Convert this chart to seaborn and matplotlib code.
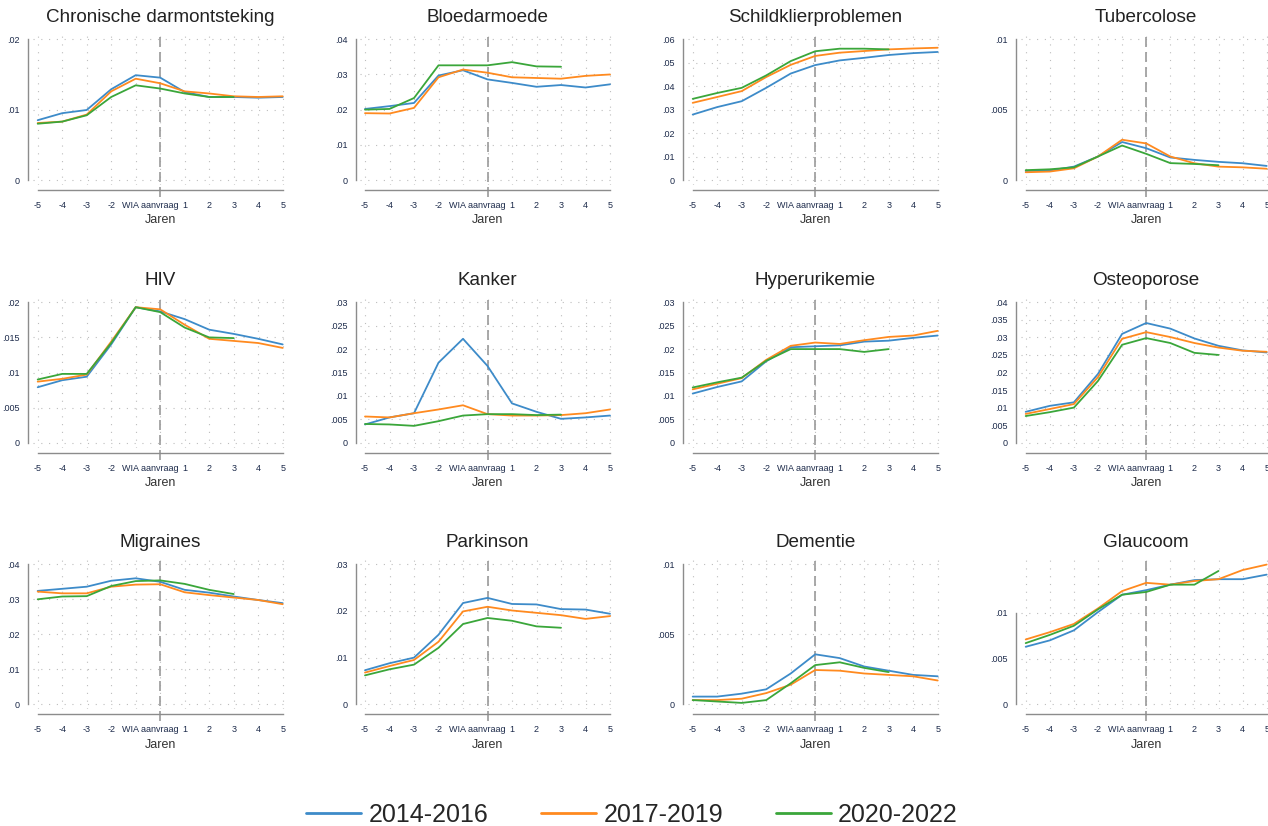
#!/usr/bin/env python3
"""Prevalentie per aandoening rond de WIA-aanvraag, drie cohorten."""

import matplotlib

matplotlib.use("Agg")
import matplotlib.pyplot as plt
import matplotlib.transforms as mtransforms
import numpy as np
import pandas as pd
import seaborn as sns
from matplotlib.lines import Line2D

YEARS = [-5, -4, -3, -2, -1, 0, 1, 2, 3, 4, 5]
PERIODS = ["2014-2016", "2017-2019", "2020-2022"]
DISEASES = [
    "Chronische darmontsteking", "Bloedarmoede", "Schildklierproblemen", "Tubercolose",
    "HIV", "Kanker", "Hyperurikemie", "Osteoporose",
    "Migraines", "Parkinson", "Dementie", "Glaucoom",
]

SERIES_2014_2016 = [
    [0.0085, 0.0095, 0.00995, 0.0129, 0.0149, 0.01455, 0.0125, 0.0118, 0.0118, 0.0117, 0.0118],
    [0.0202, 0.0210, 0.0219, 0.0297, 0.0312, 0.0286, 0.0276, 0.0265, 0.0270, 0.0263, 0.0272],
    [0.0279, 0.0311, 0.0336, 0.0393, 0.0454, 0.0490, 0.0510, 0.0521, 0.0533, 0.0541, 0.0546],
    [0.00064, 0.00067, 0.00095, 0.00167, 0.0027, 0.00226, 0.0016, 0.00143, 0.00129, 0.00119, 0.0010],
    [0.0079, 0.0089, 0.0094, 0.0140, 0.0193, 0.0187, 0.0176, 0.0161, 0.0155, 0.0148, 0.0140],
    [0.0039, 0.0054, 0.0063, 0.0171, 0.0222, 0.0164, 0.0084, 0.0066, 0.0051, 0.0054, 0.0058],
    [0.0105, 0.0119, 0.0131, 0.0174, 0.0204, 0.0206, 0.0208, 0.0216, 0.0218, 0.0224, 0.0229],
    [0.0088, 0.0105, 0.0115, 0.0196, 0.0310, 0.0341, 0.0325, 0.0297, 0.0276, 0.0263, 0.0257],
    [0.0324, 0.0330, 0.0336, 0.0353, 0.0360, 0.0350, 0.0327, 0.0319, 0.0308, 0.0298, 0.0289],
    [0.0073, 0.0088, 0.0100, 0.0149, 0.0217, 0.0228, 0.0215, 0.0214, 0.0204, 0.0203, 0.0194],
    [0.00055, 0.00055, 0.00076, 0.00107, 0.0022, 0.00357, 0.0033, 0.0027, 0.0024, 0.0021, 0.0020],
    [0.0063, 0.0070, 0.0081, 0.0101, 0.0120, 0.0125, 0.0131, 0.0136, 0.0137, 0.0137, 0.0142],
]
SERIES_2017_2019 = [
    [0.0081, 0.0083, 0.0093, 0.0126, 0.0144, 0.01375, 0.0126, 0.0123, 0.0119, 0.0118, 0.0119],
    [0.0190, 0.0189, 0.0205, 0.0292, 0.0314, 0.0305, 0.0292, 0.0290, 0.0288, 0.0296, 0.0300],
    [0.0329, 0.0354, 0.0379, 0.0439, 0.0491, 0.0529, 0.0543, 0.0550, 0.0557, 0.0561, 0.0564],
    [0.00055, 0.0006, 0.00083, 0.00167, 0.00286, 0.0026, 0.00167, 0.00119, 0.00095, 0.0009, 0.0008],
    [0.0087, 0.0091, 0.0097, 0.0144, 0.0193, 0.0190, 0.0168, 0.0148, 0.0145, 0.0142, 0.0135],
    [0.0056, 0.0054, 0.0063, 0.0071, 0.0080, 0.0061, 0.0058, 0.0058, 0.0059, 0.0063, 0.0071],
    [0.0114, 0.0126, 0.0138, 0.0177, 0.0207, 0.0214, 0.0211, 0.0219, 0.0226, 0.0229, 0.0239],
    [0.0082, 0.0096, 0.0110, 0.0187, 0.0296, 0.0315, 0.0301, 0.0284, 0.0271, 0.0262, 0.0259],
    [0.0322, 0.0317, 0.0317, 0.0336, 0.0342, 0.0343, 0.0320, 0.0312, 0.0305, 0.0298, 0.0286],
    [0.0068, 0.0082, 0.0095, 0.0134, 0.0199, 0.0209, 0.0201, 0.0196, 0.0191, 0.0183, 0.0189],
    [0.0003, 0.0003, 0.0004, 0.0008, 0.0014, 0.00245, 0.0024, 0.0022, 0.0021, 0.0020, 0.0017],
    [0.0071, 0.0079, 0.0088, 0.0105, 0.0124, 0.0133, 0.0131, 0.0135, 0.0137, 0.0147, 0.0153],
]
SERIES_2020_2022 = [
    [0.0080, 0.0083, 0.0092, 0.0118, 0.01346, 0.0130, 0.0123, 0.0118, 0.0118],
    [0.0200, 0.0202, 0.0233, 0.0326, 0.0326, 0.0326, 0.0335, 0.0323, 0.0322],
    [0.0346, 0.0371, 0.0393, 0.0446, 0.0507, 0.0549, 0.0560, 0.0560, 0.0557],
    [0.0007, 0.00076, 0.0009, 0.00167, 0.00245, 0.00186, 0.0012, 0.00114, 0.00105],
    [0.0090, 0.0098, 0.0098, 0.0142, 0.0193, 0.0186, 0.0164, 0.0150, 0.0149],
    [0.0040, 0.0039, 0.0036, 0.0046, 0.0058, 0.0061, 0.0061, 0.0059, 0.0060],
    [0.0118, 0.0129, 0.0139, 0.0175, 0.0200, 0.0200, 0.0200, 0.0194, 0.0200],
    [0.0076, 0.0087, 0.0100, 0.0176, 0.0279, 0.0298, 0.0284, 0.0256, 0.0250],
    [0.0300, 0.0308, 0.0309, 0.0338, 0.0352, 0.0354, 0.0344, 0.0327, 0.0315],
    [0.0062, 0.0075, 0.0085, 0.0121, 0.0172, 0.0185, 0.0179, 0.0167, 0.0164],
    [0.0003, 0.0002, 0.0001, 0.0003, 0.0015, 0.0028, 0.0030, 0.0026, 0.0023],
    [0.0067, 0.0076, 0.0086, 0.0104, 0.0120, 0.0123, 0.0131, 0.0131, 0.0146],
]

# y-as per paneel: hoogste tick en stapgrootte (Glaucoom loopt boven de laatste tick door)
YTICK_MAX = [0.02, 0.04, 0.06, 0.01, 0.02, 0.03, 0.03, 0.04, 0.04, 0.03, 0.01, 0.01]
YTICK_STEP = [0.01, 0.01, 0.01, 0.005, 0.005, 0.005, 0.005, 0.005, 0.01, 0.01, 0.005, 0.005]
Y_TOP = [0.02, 0.04, 0.06, 0.01, 0.02, 0.03, 0.03, 0.04, 0.04, 0.03, 0.01, 0.01533]

XTICK_LABELS = ["-5", "-4", "-3", "-2", "", "WIA aanvraag", "1", "2", "3", "4", "5"]
COLORS = ["#3d8bc9", "#ff8a1f", "#3aa63a"]

W, H = 1268, 826
COL_LEFT = [37.7, 365.0, 692.7, 1025.7]
COL_WIDTH = [245.0, 245.0, 245.0, 241.0]
ROW_TOP = [39.3, 302.3, 564.3]
ROW_ZERO = [180.0, 442.7, 704.3]
PAD = 5.0


def fmt_tick(v: float) -> str:
    if abs(v) < 1e-12:
        return "0"
    s = f"{round(v, 4):g}"
    return s[1:] if s.startswith("0.") else s


def build_frame() -> pd.DataFrame:
    rows = []
    for period, series in zip(PERIODS, [SERIES_2014_2016, SERIES_2017_2019, SERIES_2020_2022]):
        for disease, values in zip(DISEASES, series):
            for year, value in zip(YEARS, values):
                rows.append({"Aandoening": disease, "Jaar": year, "Periode": period, "Waarde": value})
    return pd.DataFrame(rows)


def main() -> None:
    sns.set_style("white")
    plt.rcParams["font.family"] = ["Liberation Sans", "DejaVu Sans"]

    df = build_frame()
    fig = plt.figure(figsize=(W / 100, H / 100), dpi=100)
    palette = dict(zip(PERIODS, COLORS))
    tick_color = "#1c2a4a"
    spine_color = "#8c8c8c"

    for i, disease in enumerate(DISEASES):
        r, c = divmod(i, 4)
        left, width = COL_LEFT[c], COL_WIDTH[c]
        top, zero = ROW_TOP[r], ROW_ZERO[r]
        ax = fig.add_axes([
            (left - PAD) / W,
            1 - (zero + PAD) / H,
            (width + 2 * PAD) / W,
            (zero - top + 2 * PAD) / H,
        ])
        sub = df[df["Aandoening"] == disease]
        sns.lineplot(data=sub, x="Jaar", y="Waarde", hue="Periode", hue_order=PERIODS,
                     palette=palette, linewidth=1.3, legend=False, ax=ax, zorder=3)

        ytop = Y_TOP[i]
        dx = 10 / width * PAD
        dy = ytop / (zero - top) * PAD
        ax.set_xlim(-5 - dx, 5 + dx)
        ax.set_ylim(-dy, ytop + dy)

        yticks = np.arange(0, YTICK_MAX[i] + 1e-9, YTICK_STEP[i])
        ax.set_yticks(yticks)
        ax.set_yticklabels([fmt_tick(v) for v in yticks])
        ax.set_xticks(YEARS)
        ax.set_xticklabels(XTICK_LABELS)

        for x in YEARS:
            ax.axvline(x, color="#bdbdbd", lw=0.8, ls=(0, (1, 6)), zorder=1)
        for y in yticks:
            ax.axhline(y, color="#bdbdbd", lw=0.8, ls=(0, (1, 6)), zorder=1)
        ax.axvline(0, color="#9a9a9a", lw=1.2, ls=(0, (6, 3)), ymin=-0.08, ymax=1.0,
                   clip_on=False, zorder=2)

        for side in ["top", "right"]:
            ax.spines[side].set_visible(False)
        ax.spines["left"].set_position(("outward", 3.2))
        ax.spines["bottom"].set_position(("outward", 3.6))
        for side in ["left", "bottom"]:
            ax.spines[side].set_color(spine_color)
            ax.spines[side].set_linewidth(1.0)
        ax.spines["left"].set_bounds(0, YTICK_MAX[i])
        ax.spines["bottom"].set_bounds(-5, 5)

        ax.tick_params(axis="both", which="major", length=4, width=1.0, color=spine_color,
                       labelsize=6.5, labelcolor=tick_color, pad=2)
        ax.tick_params(axis="x", length=5, pad=3)

        # het lange label bij 0 iets naar links, zodat het "1" ernaast niet raakt
        wia = ax.get_xticklabels()[5]
        shift = mtransforms.ScaledTranslation(-7 / 72, 0, fig.dpi_scale_trans)
        wia.set_transform(wia.get_transform() + shift)

        ax.set_ylabel("")
        ax.set_xlabel("Jaren", fontsize=9, color="#333333", labelpad=3)
        ax.set_title(disease, fontsize=13.6, color="#222222", pad=9)

    handles = [Line2D([0], [0], color=col, lw=2) for col in COLORS]
    fig.legend(handles, PERIODS, loc="center", bbox_to_anchor=(632 / W, 1 - 815 / H),
               ncol=3, frameon=False, fontsize=18, handlelength=2.2, handletextpad=0.3,
               columnspacing=2.1)

    fig.savefig("out.png", dpi=100)
    plt.close(fig)


if __name__ == "__main__":
    main()
